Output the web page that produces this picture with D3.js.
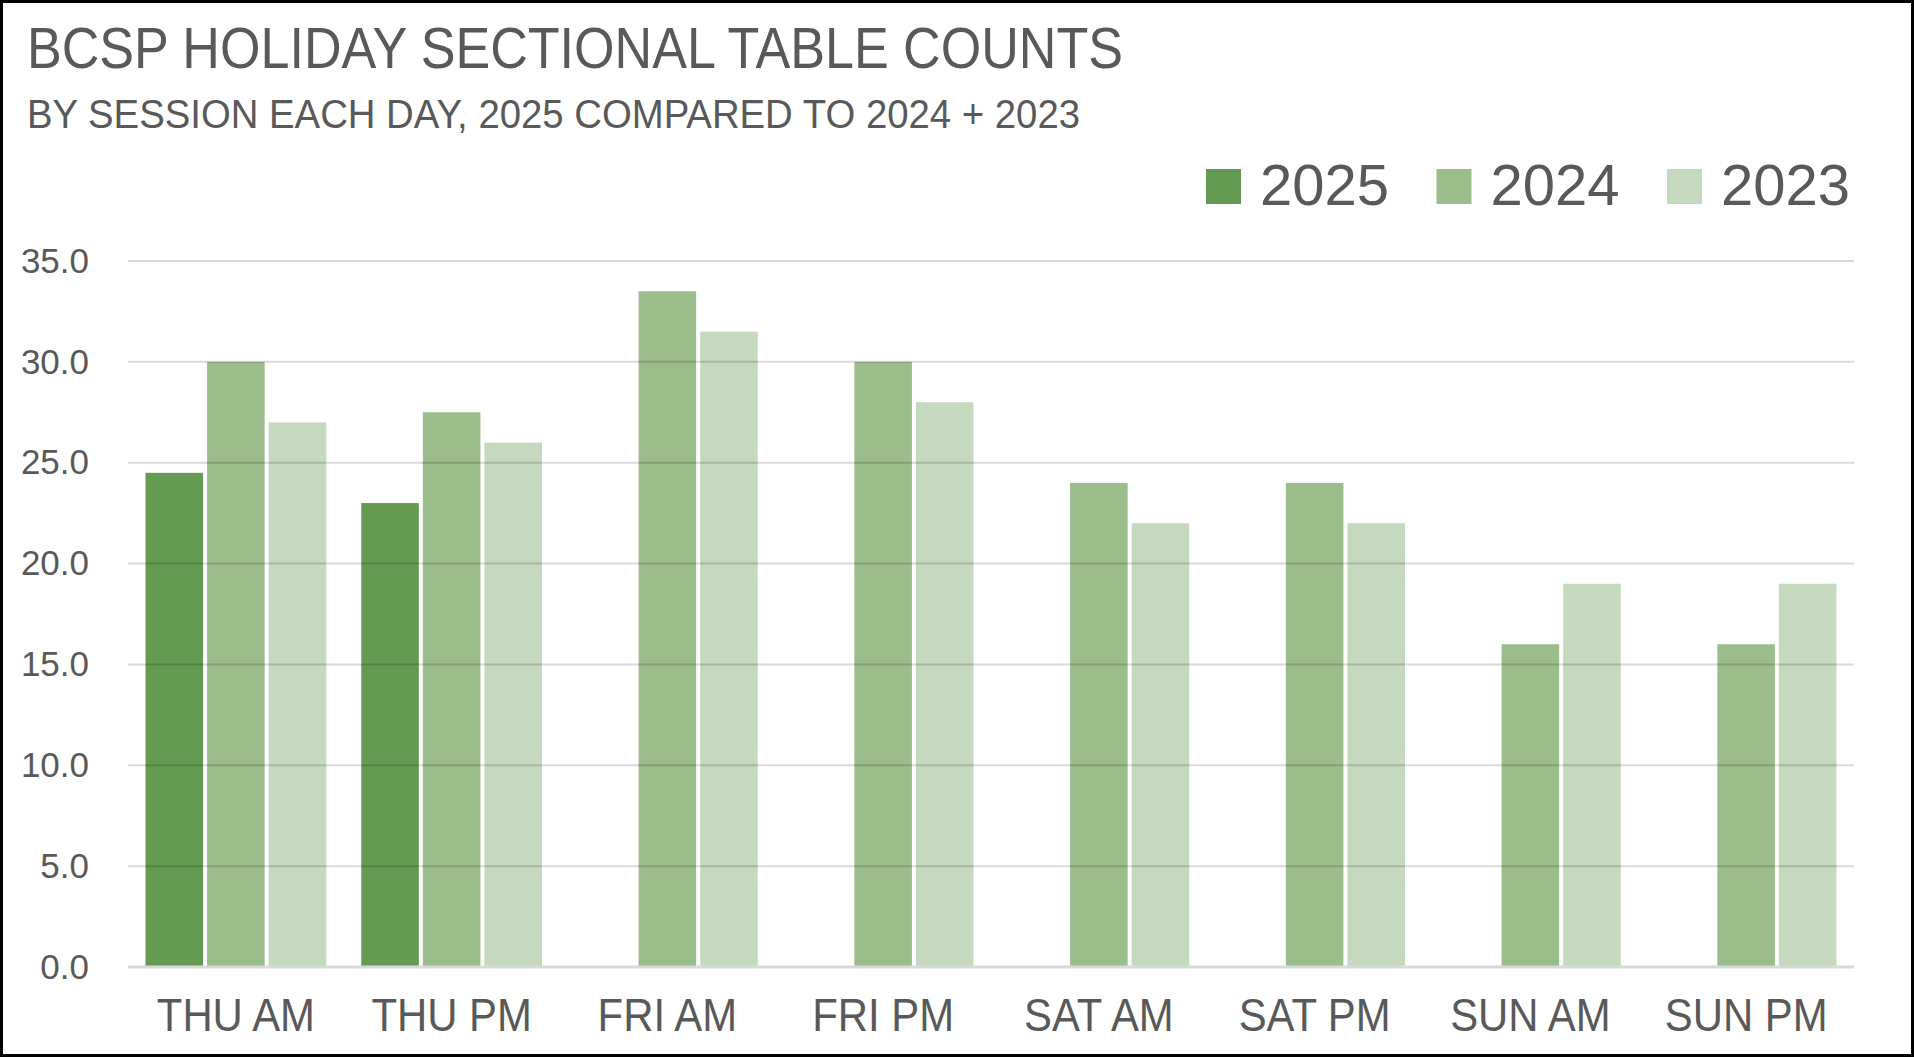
<!DOCTYPE html>
<html><head><meta charset="utf-8">
<script src="https://cdn.jsdelivr.net/npm/d3@7"></script>
<style>
html,body{margin:0;padding:0;background:#fff;}
svg{display:block;font-family:"Liberation Sans",Arial,sans-serif;}
</style></head>
<body>
<svg id="chart" width="1914" height="1057"></svg>
<script>
const categories = ["THU AM","THU PM","FRI AM","FRI PM","SAT AM","SAT PM","SUN AM","SUN PM"];
const seriesNames = ["2025","2024","2023"];
const values2025 = [24.5, 23, null, null, null, null, null, null];
const values2024 = [30, 27.5, 33.5, 30, 24, 24, 16, 16];
const values2023 = [27, 26, 31.5, 28, 22, 22, 19, 19];
const yTicks = [0,5,10,15,20,25,30,35];
const colors = ["#659a52","#9bbc8b","#c5d9bf"];
const titleText = "BCSP HOLIDAY SECTIONAL TABLE COUNTS";
const subtitleText = "BY SESSION EACH DAY, 2025 COMPARED TO 2024 + 2023";

const seriesValues = [values2025, values2024, values2023];
const W = 1914, H = 1057;
const svg = d3.select("#chart");
const textColor = "#595959";

svg.append("rect").attr("x",0).attr("y",0).attr("width",W).attr("height",H).attr("fill","#fff");

// title
svg.append("text").attr("x",27).attr("y",68).attr("font-size",57).attr("fill",textColor)
  .attr("textLength",1096).attr("lengthAdjust","spacingAndGlyphs").text(titleText);
svg.append("text").attr("x",27).attr("y",128).attr("font-size",40).attr("fill",textColor)
  .attr("textLength",1053).attr("lengthAdjust","spacingAndGlyphs").text(subtitleText);

// legend
const legend = svg.append("g");
seriesNames.forEach((s,i)=>{
  const lx = 1206 + i*230.5;
  legend.append("rect").attr("x",lx).attr("y",169).attr("width",35).attr("height",35).attr("fill",colors[i]);
  legend.append("text").attr("x",lx+54).attr("y",205).attr("font-size",58).attr("fill",textColor).text(s);
});

const x0 = d3.scaleBand().domain(categories).range([128,1854]).paddingInner(0).paddingOuter(0);
const inset = 17.5;
const x1 = d3.scaleBand().domain(seriesNames).range([inset, x0.bandwidth()-inset]).paddingInner(0.065);
const y = d3.scaleLinear().domain([0,35]).range([967,261]);

// bars
const g = svg.append("g");
categories.forEach((c,ci)=>{
  seriesNames.forEach((s,si)=>{
    const v = seriesValues[si][ci];
    if (v == null) return;
    g.append("rect").attr("x",x0(c)+x1(s)).attr("y",y(v)).attr("width",x1.bandwidth())
      .attr("height",y(0)-y(v)).attr("fill",colors[si]);
  });
});

// gridlines (drawn over bars, semi-transparent)
const grid = svg.append("g");
yTicks.filter(t=>t>0).forEach(t=>{
  grid.append("line").attr("x1",128).attr("x2",1854).attr("y1",y(t)).attr("y2",y(t))
    .attr("stroke","rgba(0,0,0,0.15)").attr("stroke-width",2);
});
// baseline
svg.append("line").attr("x1",128).attr("x2",1854).attr("y1",y(0)).attr("y2",y(0))
  .attr("stroke","#d9d9d9").attr("stroke-width",3);

// y axis labels
const yAxis = d3.axisLeft(y).tickValues(yTicks).tickFormat(d3.format(".1f")).tickSize(0).tickPadding(0);
const ya = svg.append("g").attr("transform","translate(89,0)").call(yAxis);
ya.select(".domain").remove();
ya.selectAll("text").attr("font-size",35).attr("fill",textColor).attr("font-family","Liberation Sans, Arial, sans-serif");

// x axis labels
const xAxis = d3.axisBottom(x0).tickSize(0).tickPadding(0);
const xa = svg.append("g").attr("transform","translate(0,967)").call(xAxis);
xa.select(".domain").remove();
xa.selectAll(".tick text").attr("font-size",46).attr("fill",textColor)
  .attr("font-family","Liberation Sans, Arial, sans-serif")
  .attr("dy",null).attr("y",64);
xa.selectAll(".tick").each(function(d){
  const cx = x0(d) + x0.bandwidth()/2;
  d3.select(this).attr("transform",`translate(${cx},0) scale(0.91,1)`);
});

// border
svg.append("rect").attr("x",1.5).attr("y",1.5).attr("width",W-3).attr("height",H-3)
  .attr("fill","none").attr("stroke","#000").attr("stroke-width",3);
</script>
</body></html>
